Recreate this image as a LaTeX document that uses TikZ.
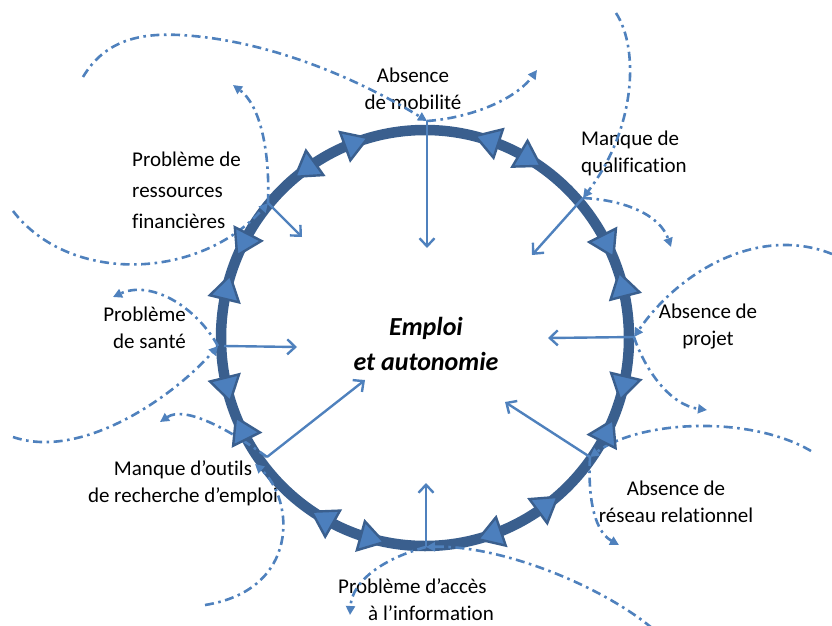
\documentclass[tikz,border=0pt]{standalone}
\usepackage{fontspec}
\setmainfont[Ligatures=CommonOff]{Carlito}
\usetikzlibrary{arrows.meta,calc}
\definecolor{ringc}{HTML}{3A5F8E}
\definecolor{accent}{HTML}{4F81BD}
\definecolor{trifill}{HTML}{4C7FBD}
\tikzset{
  ring/.style={draw=ringc, line width=10.5pt},
  tri/.style={fill=trifill, draw=ringc, line width=2.4pt, line join=miter},
  spoke/.style={draw=accent, line width=2.4pt, -{Straight Barb[length=8pt,width=15pt,line width=2.4pt]}},
  loopline/.style={draw=accent, line width=2.6pt, dash pattern=on 9pt off 4.5pt on 2.6pt off 4.5pt, -{Triangle[length=9pt,width=9pt]}},
  lbl/.style={font=\fontsize{21}{27}\selectfont, text=black, align=center, inner sep=0pt},
  ctr/.style={font=\fontsize{26}{35}\selectfont\bfseries\itshape, text=black, align=center, inner sep=0pt},
}
\newcommand\ringtri[2]{%
  \begin{scope}[shift={($(C)+(#1:204pt and 208pt)$)}, rotate=#1+#2]
    \path[tri] (14pt,0pt) -- (-10pt,15pt) -- (-10pt,-15pt) -- cycle;
  \end{scope}}
\begin{document}
\begin{tikzpicture}[x=1pt,y=-1pt]
\useasboundingbox (0,0) rectangle (832,626);
\coordinate (C) at (425,338);

% ring
\draw[ring] (C) ellipse[x radius=204pt, y radius=208pt];

% junctions on the ring and spoke ends
\coordinate (J1) at (427,121);  \coordinate (E1) at (427,248);
\coordinate (J2) at (583,198);  \coordinate (E2) at (532,255);
\coordinate (J3) at (634,337);  \coordinate (E3) at (548,338);
\coordinate (J4) at (590,457);  \coordinate (E4) at (505,402);
\coordinate (J5) at (426,547);  \coordinate (E5) at (426,483);
\coordinate (J6) at (267,457);  \coordinate (E6) at (365,380);
\coordinate (J6c) at (255,464);
\coordinate (J7) at (218,346);  \coordinate (E7) at (297,347);
\coordinate (J8) at (268,203);  \coordinate (E8) at (302,237);

% spokes
\draw[spoke] (J1) -- (E1);
\draw[spoke] (J2) -- (E2);
\draw[spoke] (J3) -- (E3);
\draw[spoke] (J4) -- (E4);
\draw[spoke] (J5) -- (E5);
\draw[spoke] (J6) -- (E6);
\draw[spoke] ($(J7)+(6,0)$) -- (E7);
\draw[spoke] (J8) -- (E8);

% labels
\node[lbl] (lmob) at (413,89) {Absence\\de mobilité};
\node[lbl, align=left, anchor=west] (lqual) at (581,153) {Manque de\\qualification};
\node[lbl] (lproj) at (708,327) {Absence de\\projet};
\node[lbl] (lres) at (676,502) {Absence de\\réseau relationnel};
\node[lbl, align=left, anchor=west] (lacc) at (338,600) {Problème d’accès\\\hspace*{30pt}à l’information};
\node[lbl] (lout) at (183,483) {Manque d’outils\\de recherche d’emploi};
\node[lbl, align=right, anchor=east] (lsan) at (186,328) {Problème\\de santé};
\node[lbl, align=left, anchor=west, font=\fontsize{21}{31}\selectfont] (lfin) at (132,190) {Problème de\\ressources\\financières};
\node[ctr] (lctr) at (426,344) {Emploi\\et autonomie};

% free ends of the dash-dot loops
\coordinate (a1) at (83,77);
\coordinate (a2) at (537,70);
\coordinate (a3) at (616,13);
\coordinate (a4) at (671,247);
\coordinate (a5) at (832,254);
\coordinate (a6) at (707,410);
\coordinate (a7) at (811,451);
\coordinate (a8) at (619,545);
\coordinate (a9) at (652,628);
\coordinate (a10) at (350,615);
\coordinate (a11) at (205,605);
\coordinate (a12) at (160,422);
\coordinate (a13) at (13,437);
\coordinate (a14) at (113,297);
\coordinate (a15) at (13,211);
\coordinate (a16) at (233,85);
\coordinate (m1) at (180,35);

% dash-dot loops
\draw[loopline] (a1) .. controls (105,40) and (140,33) .. (m1)
                     .. controls (270,40) and (360,80) .. (J1);
\draw[loopline] (J1) .. controls (470,118) and (515,100) .. (a2);
\draw[loopline] (a3) .. controls (640,50) and (635,130) .. (J2);
\draw[loopline] (J2) .. controls (625,200) and (660,215) .. (a4);
\draw[loopline] (a5) .. controls (760,225) and (680,270) .. (J3);
\draw[loopline] (J3) .. controls (645,370) and (670,405) .. (a6);
\draw[loopline] (a7) .. controls (750,415) and (640,420) .. (J4);
\draw[loopline] (J4) .. controls (588,490) and (592,530) .. (a8);
\draw[loopline] (a9) .. controls (600,585) and (500,545) .. (J5);
\draw[loopline] (J5) .. controls (385,558) and (352,580) .. (a10);
\draw[loopline] (a11) .. controls (300,590) and (295,500) .. (J6c);
\draw[loopline] (J6) .. controls (230,430) and (185,405) .. (a12);
\draw[loopline] (a13) .. controls (80,460) and (170,400) .. (J7);
\draw[loopline] (J7) .. controls (195,305) and (150,280) .. (a14);
\draw[loopline] (a15) .. controls (70,285) and (200,280) .. (J8);
\draw[loopline] (J8) .. controls (270,150) and (260,105) .. (a16);

% triangles on the ring
\ringtri{71.8}{90}
\ringtri{59.5}{-90}
\ringtri{26.8}{-90}
\ringtri{14.4}{90}
\ringtri{-13.4}{-90}
\ringtri{-27}{90}
\ringtri{-53.5}{90}
\ringtri{-71}{-90}
\ringtri{-105.5}{90}
\ringtri{-119.7}{-90}
\ringtri{206.3}{-90}
\ringtri{193.8}{90}
\ringtri{166.4}{-90}
\ringtri{152.8}{90}
\ringtri{125.5}{90}
\ringtri{110.2}{-90}
\end{tikzpicture}
\end{document}
